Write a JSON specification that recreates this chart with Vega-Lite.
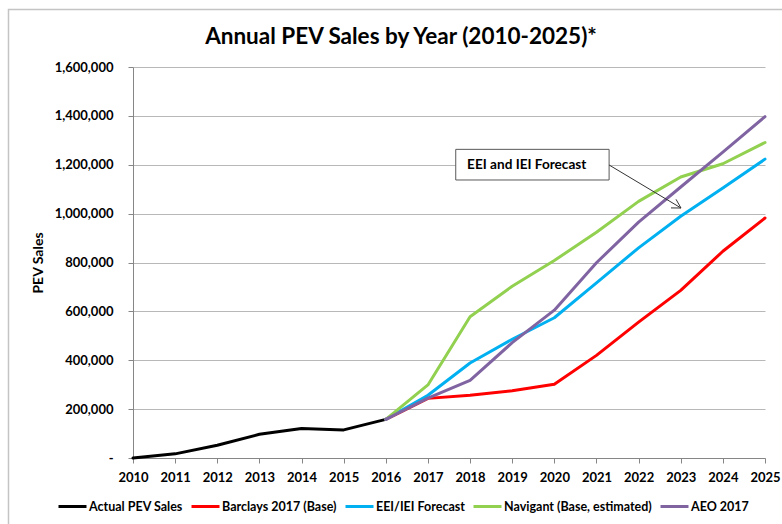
{
  "$schema": "https://vega.github.io/schema/vega-lite/v6.json",
  "autosize": "none",
  "width": 632,
  "height": 391,
  "padding": {"left": 133, "top": 67, "right": 17, "bottom": 66},
  "background": "white",
  "title": {
    "text": "Annual PEV Sales by Year (2010-2025)*",
    "font": "Lato",
    "fontSize": 22.5,
    "fontWeight": "bold",
    "color": "#000000",
    "anchor": "middle",
    "frame": "group",
    "dx": -48,
    "offset": -40
  },
  "config": {
    "view": {"stroke": null},
    "font": "Lato"
  },
  "datasets": {
    "frame": [
      {"year": 2007.045, "year2": 2027, "sales": 1835000, "sales2": -600000}
    ],
    "lines": [
      {"series": "Actual PEV Sales", "year": 2010, "sales": 0},
      {"series": "Actual PEV Sales", "year": 2011, "sales": 17000},
      {"series": "Actual PEV Sales", "year": 2012, "sales": 52000},
      {"series": "Actual PEV Sales", "year": 2013, "sales": 97000},
      {"series": "Actual PEV Sales", "year": 2014, "sales": 121000},
      {"series": "Actual PEV Sales", "year": 2015, "sales": 115000},
      {"series": "Actual PEV Sales", "year": 2016, "sales": 158000},
      {"series": "Barclays 2017 (Base)", "year": 2016, "sales": 158000},
      {"series": "Barclays 2017 (Base)", "year": 2017, "sales": 244000},
      {"series": "Barclays 2017 (Base)", "year": 2018, "sales": 257000},
      {"series": "Barclays 2017 (Base)", "year": 2019, "sales": 275000},
      {"series": "Barclays 2017 (Base)", "year": 2020, "sales": 302000},
      {"series": "Barclays 2017 (Base)", "year": 2021, "sales": 420000},
      {"series": "Barclays 2017 (Base)", "year": 2022, "sales": 556000},
      {"series": "Barclays 2017 (Base)", "year": 2023, "sales": 686000},
      {"series": "Barclays 2017 (Base)", "year": 2024, "sales": 846000},
      {"series": "Barclays 2017 (Base)", "year": 2025, "sales": 982000},
      {"series": "EEI/IEI Forecast", "year": 2016, "sales": 158000},
      {"series": "EEI/IEI Forecast", "year": 2017, "sales": 257000},
      {"series": "EEI/IEI Forecast", "year": 2018, "sales": 389000},
      {"series": "EEI/IEI Forecast", "year": 2019, "sales": 486000},
      {"series": "EEI/IEI Forecast", "year": 2020, "sales": 574000},
      {"series": "EEI/IEI Forecast", "year": 2021, "sales": 717000},
      {"series": "EEI/IEI Forecast", "year": 2022, "sales": 860000},
      {"series": "EEI/IEI Forecast", "year": 2023, "sales": 989000},
      {"series": "EEI/IEI Forecast", "year": 2024, "sales": 1105000},
      {"series": "EEI/IEI Forecast", "year": 2025, "sales": 1223000},
      {"series": "Navigant (Base, estimated)", "year": 2016, "sales": 158000},
      {"series": "Navigant (Base, estimated)", "year": 2017, "sales": 299000},
      {"series": "Navigant (Base, estimated)", "year": 2018, "sales": 578000},
      {"series": "Navigant (Base, estimated)", "year": 2019, "sales": 703000},
      {"series": "Navigant (Base, estimated)", "year": 2020, "sales": 808000},
      {"series": "Navigant (Base, estimated)", "year": 2021, "sales": 924000},
      {"series": "Navigant (Base, estimated)", "year": 2022, "sales": 1050000},
      {"series": "Navigant (Base, estimated)", "year": 2023, "sales": 1150000},
      {"series": "Navigant (Base, estimated)", "year": 2024, "sales": 1204000},
      {"series": "Navigant (Base, estimated)", "year": 2025, "sales": 1291000},
      {"series": "AEO 2017", "year": 2016, "sales": 158000},
      {"series": "AEO 2017", "year": 2017, "sales": 245000},
      {"series": "AEO 2017", "year": 2018, "sales": 318000},
      {"series": "AEO 2017", "year": 2019, "sales": 472000},
      {"series": "AEO 2017", "year": 2020, "sales": 605000},
      {"series": "AEO 2017", "year": 2021, "sales": 799000},
      {"series": "AEO 2017", "year": 2022, "sales": 965000},
      {"series": "AEO 2017", "year": 2023, "sales": 1109000},
      {"series": "AEO 2017", "year": 2024, "sales": 1252000},
      {"series": "AEO 2017", "year": 2025, "sales": 1397000}
    ],
    "box": [
      {"year": 2017.66, "year2": 2021.3, "sales": 1263000, "sales2": 1137600}
    ],
    "label": [
      {"year": 2017.93, "sales": 1201000, "text": "EEI and IEI Forecast"}
    ],
    "arrows": [
      {"year": 2021.3, "sales": 1199000, "year2": 2023.006, "sales2": 1023000},
      {"year": 2022.888, "sales": 1058600, "year2": 2023.006, "sales2": 1023000},
      {"year": 2022.769, "sales": 1023400, "year2": 2023.006, "sales2": 1023000}
    ]
  },
  "encoding": {
    "x": {
      "field": "year",
      "type": "quantitative",
      "scale": {"domain": [2010, 2025], "nice": false, "zero": false},
      "axis": {
        "title": null,
        "values": [2010, 2011, 2012, 2013, 2014, 2015, 2016, 2017, 2018, 2019, 2020, 2021, 2022, 2023, 2024, 2025],
        "format": "d",
        "grid": false,
        "domainColor": "#868686",
        "tickColor": "#868686",
        "tickSize": 5,
        "labelFont": "Lato",
        "labelFontSize": 13,
        "labelFontWeight": "bold",
        "labelColor": "#000000",
        "labelPadding": 8,
        "labelFlush": false,
        "labelOverlap": false
      }
    },
    "y": {
      "field": "sales",
      "type": "quantitative",
      "scale": {"domain": [0, 1600000], "nice": false},
      "axis": {
        "title": "PEV Sales",
        "titleFont": "Lato",
        "titleFontSize": 14,
        "titleFontWeight": "bold",
        "titleColor": "#000000",
        "titlePadding": 9,
        "values": [0, 200000, 400000, 600000, 800000, 1000000, 1200000, 1400000, 1600000],
        "labelExpr": "datum.value === 0 ? '-\u00a0\u00a0' : format(datum.value, ',')",
        "grid": true,
        "gridColor": "#b8b8b8",
        "gridWidth": 1,
        "domainColor": "#868686",
        "tickColor": "#868686",
        "tickSize": 5,
        "labelFont": "Lato",
        "labelFontSize": 13,
        "labelFontWeight": "bold",
        "labelColor": "#000000",
        "labelPadding": 15
      }
    }
  },
  "layer": [
    {
      "data": {"name": "frame"},
      "mark": {"type": "rect", "fill": null, "stroke": "#c4c4c4", "strokeWidth": 1.5, "clip": false},
      "encoding": {
        "x2": {"field": "year2"},
        "y2": {"field": "sales2"}
      }
    },
    {
      "data": {"name": "lines"},
      "mark": {"type": "line", "strokeWidth": 3, "strokeJoin": "round", "strokeCap": "round"},
      "encoding": {
        "color": {
          "field": "series",
          "type": "nominal",
          "sort": null,
          "scale": {
            "domain": ["Actual PEV Sales", "Barclays 2017 (Base)", "EEI/IEI Forecast", "Navigant (Base, estimated)", "AEO 2017"],
            "range": ["#000000", "#ff0000", "#00b0f0", "#92d050", "#8064a2"]
          },
          "legend": {
            "title": null,
            "orient": "none",
            "direction": "horizontal",
            "legendX": -76,
            "legendY": 424,
            "symbolType": "stroke",
            "symbolSize": 784,
            "symbolStrokeWidth": 3,
            "labelFont": "Lato",
            "labelFontSize": 12.5,
            "labelFontWeight": "bold",
            "labelColor": "#000000",
            "labelOffset": 1,
            "columnPadding": 2,
            "labelLimit": 300
          }
        }
      }
    },
    {
      "data": {"name": "box"},
      "mark": {"type": "rect", "fill": "#ffffff", "stroke": "#595959", "strokeWidth": 1},
      "encoding": {
        "x2": {"field": "year2"},
        "y2": {"field": "sales2"}
      }
    },
    {
      "data": {"name": "label"},
      "mark": {"type": "text", "align": "left", "baseline": "middle", "font": "Lato", "fontSize": 13.6, "fontWeight": "bold", "color": "#000000"},
      "encoding": {
        "text": {"field": "text"}
      }
    },
    {
      "data": {"name": "arrows"},
      "mark": {"type": "rule", "color": "#333333", "strokeWidth": 1},
      "encoding": {
        "x2": {"field": "year2"},
        "y2": {"field": "sales2"}
      }
    }
  ]
}
